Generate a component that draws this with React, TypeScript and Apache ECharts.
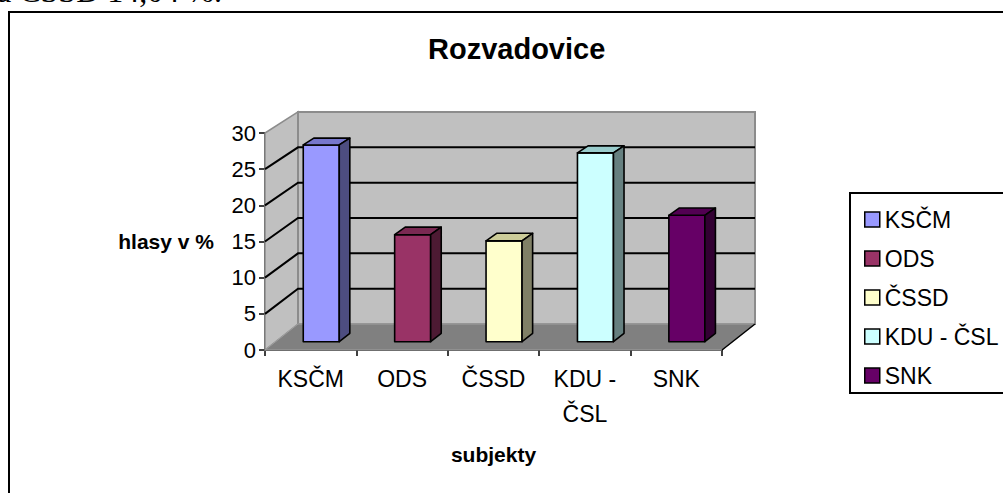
import React, { useEffect, useRef } from "react";
import * as echarts from "echarts";

const categories = ["KSČM", "ODS", "ČSSD", "KDU - ČSL", "SNK"];
const values = [27.4, 14.9, 14.04, 26.3, 17.6];
const frontColors = ["#9999ff", "#993366", "#ffffcc", "#ccffff", "#660066"];
const topColors = ["#7777cc", "#7a2952", "#cccc99", "#99cccc", "#520052"];
const sideColors = ["#4d4d80", "#4d1a33", "#808066", "#668080", "#330033"];
const yMax = 30;
const yStep = 5;
const titleText = "Rozvadovice";
const yName = "hlasy v %";
const xName = "subjekty";
const topLine = "a ČSSD 14,04 %.";

const DX = 33;
const DZ = 26;
const SK = 0.023;
const T1 = 0.32;
const T2 = 0.64;
const FONT = '"Liberation Sans", Arial, sans-serif';

export default function App() {
  const ref = useRef<HTMLDivElement>(null);
  useEffect(() => {
    const chart = echarts.init(ref.current!, null, { renderer: "svg" });

    const gridVals: number[] = [];
    for (let v = 0; v <= yMax; v += yStep) gridVals.push(v);

    const wallsRender = (params: any, api: any) => {
      const n = categories.length;
      const band = api.size([1, 0])[0];
      const c0 = api.coord([0, 0]);
      const cN = api.coord([n - 1, 0]);
      const FY0 = c0[1];
      const x0 = c0[0] - band / 2;
      const x1 = cN[0] + band / 2;
      const P = (x: number, val: number, t: number) => {
        const fy = api.coord([0, val])[1];
        return [x + DX * t, FY0 - DZ * t + (fy - FY0) * (1 - SK * t)];
      };
      const children: any[] = [];
      children.push({
        type: "polygon",
        shape: { points: [P(x0, 0, 0), P(x0, yMax, 0), P(x0, yMax, 1), P(x0, 0, 1)] },
        style: { fill: "#c0c0c0", stroke: "#8c8c8c", lineWidth: 1.5 },
      });
      children.push({
        type: "polygon",
        shape: { points: [P(x0, 0, 1), P(x0, yMax, 1), P(x1, yMax, 1), P(x1, 0, 1)] },
        style: { fill: "#c0c0c0", stroke: "#8c8c8c", lineWidth: 2 },
      });
      children.push({
        type: "polygon",
        shape: { points: [P(x0, 0, 0), P(x1, 0, 0), P(x1, 0, 1), P(x0, 0, 1)] },
        style: { fill: "#808080", stroke: "#a0a0a0", lineWidth: 1 },
      });
      children.push({
        type: "line",
        shape: { x1: P(x1, 0, 0)[0], y1: P(x1, 0, 0)[1], x2: P(x1, 0, 1)[0], y2: P(x1, 0, 1)[1] },
        style: { stroke: "#000", lineWidth: 1.5 },
      });
      gridVals.forEach((v) => {
        if (v === 0 || v === yMax) return;
        const a = P(x0, v, 0), b = P(x0, v, 1), c = P(x1, v, 1);
        children.push({
          type: "polyline",
          shape: { points: [a, b, c] },
          style: { stroke: "#000", lineWidth: 2, fill: null },
        });
      });
      return { type: "group", children };
    };

    const barRender = (idx: number) => (params: any, api: any) => {
      const i = api.value(0);
      const v = api.value(1);
      const c = api.coord([i, 0]);
      const band = api.size([1, 0])[0];
      const FY0 = c[1];
      const w = band * 0.394;
      const xl = c[0] - w / 2;
      const xr = c[0] + w / 2;
      const P = (x: number, val: number, t: number) => {
        const fy = api.coord([i, val])[1];
        return [x + DX * t, FY0 - DZ * t + (fy - FY0) * (1 - SK * t)];
      };
      const st = { stroke: "#000", lineWidth: 1.6, lineJoin: "round" };
      return {
        type: "group",
        children: [
          {
            type: "polygon",
            shape: { points: [P(xl, 0, T1), P(xr, 0, T1), P(xr, v, T1), P(xl, v, T1)] },
            style: { ...st, fill: frontColors[idx] },
          },
          {
            type: "polygon",
            shape: { points: [P(xl, v, T1), P(xr, v, T1), P(xr, v, T2), P(xl, v, T2)] },
            style: { ...st, fill: topColors[idx] },
          },
          {
            type: "polygon",
            shape: { points: [P(xr, 0, T1), P(xr, 0, T2), P(xr, v, T2), P(xr, v, T1)] },
            style: { ...st, fill: sideColors[idx] },
          },
        ],
      };
    };

    const series: any[] = [
      {
        type: "custom",
        name: "walls",
        renderItem: wallsRender,
        data: [[0, 0]],
        silent: true,
        z: 1,
      },
    ];
    categories.forEach((cat, idx) => {
      series.push({
        type: "custom",
        name: cat,
        renderItem: barRender(idx),
        itemStyle: { color: frontColors[idx] },
        data: [[idx, values[idx]]],
        z: 5,
      });
    });

    chart.setOption({
      animation: false,
      backgroundColor: "#fff",
      title: {
        text: titleText,
        left: 423,
        top: 29,
        textStyle: { fontFamily: FONT, fontSize: 29, fontWeight: "bold", color: "#000" },
      },
      grid: { left: 265, right: 281, top: 133, bottom: 143, outerBoundsMode: "none" },
      legend: {
        data: categories,
        orient: "vertical",
        left: 859,
        top: 203,
        icon: "rect",
        itemWidth: 15,
        itemHeight: 15,
        itemGap: 16,
        itemStyle: { borderColor: "#000", borderWidth: 1.5 },
        textStyle: { fontFamily: FONT, fontSize: 23, color: "#000" },
        selectedMode: false,
      },
      xAxis: {
        type: "category",
        data: categories,
        name: xName,
        nameLocation: "middle",
        nameGap: 94,
        nameTextStyle: { fontFamily: FONT, fontSize: 21, fontWeight: "bold", color: "#000" },
        axisLine: { lineStyle: { color: "#000", width: 1.5 } },
        axisTick: { show: true, length: 6, lineStyle: { color: "#000", width: 1.5 } },
        axisLabel: {
          fontFamily: FONT,
          fontSize: 23,
          color: "#000",
          margin: 11,
          lineHeight: 35,
          formatter: (s: string) => s.replace(" - ", " -\n"),
        },
        splitLine: { show: false },
      },
      yAxis: {
        type: "value",
        min: 0,
        max: yMax,
        interval: yStep,
        name: yName,
        nameLocation: "middle",
        nameRotate: 0,
        nameGap: 51,
        nameTextStyle: { fontFamily: FONT, fontSize: 21, fontWeight: "bold", color: "#000" },
        axisLine: { show: true, lineStyle: { color: "#000", width: 1.5 } },
        axisTick: { show: true, length: 6, lineStyle: { color: "#000", width: 1.5 } },
        axisLabel: { fontFamily: FONT, fontSize: 22, color: "#000", margin: 9 },
        splitLine: { show: false },
      },
      graphic: [
        {
          type: "rect",
          shape: { x: 9, y: 12, width: 1200, height: 700 },
          style: { fill: "none", stroke: "#000", lineWidth: 2 },
          silent: true,
          z: 0,
        },
        {
          type: "rect",
          shape: { x: 850, y: 193, width: 300, height: 200 },
          style: { fill: "none", stroke: "#000", lineWidth: 2 },
          silent: true,
          z: 0,
        },
        {
          type: "text",
          x: -3,
          y: 7,
          style: {
            text: topLine,
            font: '32px "Liberation Serif", "Times New Roman", serif',
            fill: "#000",
            verticalAlign: "bottom",
          },
          silent: true,
        },
      ],
      series,
    });
    return () => chart.dispose();
  }, []);
  return (
    <div
      ref={ref}
      style={{ position: "fixed", left: 0, top: 0, width: 1003, height: 493 }}
    />
  );
}
